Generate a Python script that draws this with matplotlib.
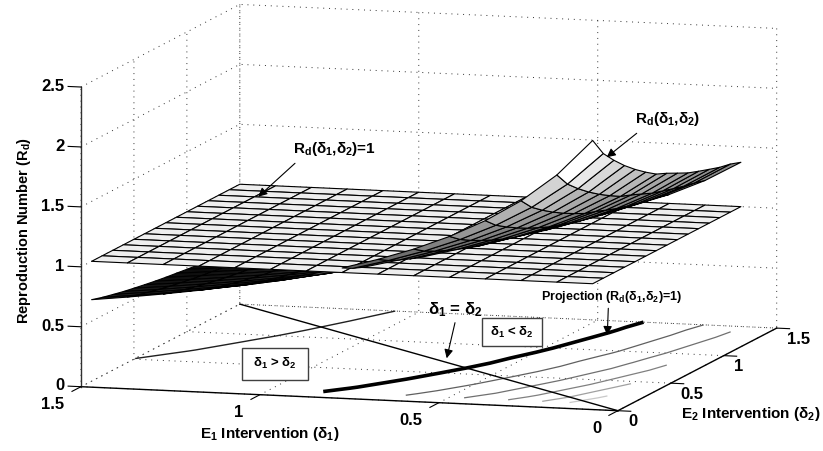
import numpy as np
import matplotlib
matplotlib.use("Agg")
import matplotlib.pyplot as plt
from matplotlib.patches import Rectangle
from mpl_toolkits.mplot3d import proj3d
from mpl_toolkits.mplot3d.art3d import Poly3DCollection

# grid of the two interventions
delta1 = [0.1, 0.2, 0.3, 0.4, 0.5, 0.6, 0.7, 0.8, 0.9, 1.0, 1.1, 1.2, 1.3, 1.4, 1.5]
delta2 = [0.1, 0.2, 0.3, 0.4, 0.5, 0.6, 0.7, 0.8, 0.9, 1.0, 1.1, 1.2, 1.3, 1.4, 1.5]

# Rd, one row per delta2, one column per delta1
rd_values = [
    [2.195, 1.894, 1.665, 1.486, 1.341, 1.222, 1.123, 1.038, 0.966, 0.902, 0.847, 0.798, 0.754, 0.715, 0.680],
    [2.040, 1.772, 1.565, 1.402, 1.270, 1.160, 1.068, 0.989, 0.921, 0.862, 0.810, 0.764, 0.723, 0.686, 0.653],
    [1.938, 1.688, 1.495, 1.342, 1.217, 1.114, 1.026, 0.952, 0.887, 0.831, 0.781, 0.737, 0.698, 0.663, 0.631],
    [1.848, 1.614, 1.433, 1.288, 1.170, 1.072, 0.989, 0.918, 0.856, 0.802, 0.755, 0.713, 0.675, 0.641, 0.610],
    [1.770, 1.549, 1.378, 1.240, 1.128, 1.034, 0.955, 0.887, 0.828, 0.776, 0.730, 0.690, 0.654, 0.621, 0.592],
    [1.701, 1.492, 1.329, 1.198, 1.090, 1.001, 0.924, 0.859, 0.802, 0.753, 0.709, 0.670, 0.635, 0.603, 0.575],
    [1.639, 1.440, 1.284, 1.159, 1.056, 0.969, 0.896, 0.833, 0.779, 0.731, 0.688, 0.650, 0.617, 0.586, 0.559],
    [1.600, 1.406, 1.254, 1.131, 1.031, 0.947, 0.875, 0.814, 0.760, 0.713, 0.672, 0.635, 0.602, 0.572, 0.545],
    [1.555, 1.368, 1.220, 1.102, 1.004, 0.923, 0.853, 0.793, 0.742, 0.696, 0.656, 0.620, 0.588, 0.559, 0.533],
    [1.511, 1.329, 1.187, 1.072, 0.978, 0.898, 0.831, 0.773, 0.723, 0.679, 0.639, 0.605, 0.573, 0.545, 0.520],
    [1.479, 1.302, 1.162, 1.050, 0.957, 0.880, 0.814, 0.757, 0.707, 0.664, 0.626, 0.592, 0.561, 0.533, 0.508],
    [1.449, 1.275, 1.139, 1.028, 0.938, 0.862, 0.797, 0.741, 0.693, 0.651, 0.613, 0.580, 0.550, 0.523, 0.498],
    [1.420, 1.250, 1.116, 1.008, 0.919, 0.844, 0.781, 0.726, 0.679, 0.637, 0.601, 0.568, 0.538, 0.512, 0.488],
    [1.401, 1.231, 1.099, 0.992, 0.904, 0.830, 0.768, 0.714, 0.667, 0.626, 0.590, 0.558, 0.529, 0.503, 0.479],
    [1.370, 1.205, 1.075, 0.971, 0.885, 0.813, 0.752, 0.699, 0.654, 0.613, 0.578, 0.546, 0.518, 0.493, 0.469],
]
plane_level = 1.0

contour_levels = [0.59, 1.0, 1.2, 1.4, 1.6, 1.8, 2.0]
contour_colors = ["#202020", "black", "#606060", "#707070", "#808080", "#a0a0a0", "#c8c8c8"]
contour_widths = [1.0, 2.6, 0.9, 0.9, 0.9, 0.9, 0.9]

diag_ends = [0.0, 1.5]
d1_ticks = [0, 0.5, 1, 1.5]
d2_ticks = [0, 0.5, 1, 1.5]
z_ticks = [0, 0.5, 1, 1.5, 2, 2.5]
d1_ticklabels = ["0", "0.5", "1", "1.5"]
d2_ticklabels = ["0", "0.5", "1", "1.5"]
z_ticklabels = ["0", "0.5", "1", "1.5", "2", "2.5"]

plt.rcParams["font.family"] = ["Liberation Sans", "DejaVu Sans"]
plt.rcParams["font.weight"] = "bold"
plt.rcParams["mathtext.fontset"] = "custom"
plt.rcParams["mathtext.rm"] = "Liberation Sans"
plt.rcParams["mathtext.default"] = "regular"
plt.rcParams["grid.color"] = "#303030"
plt.rcParams["grid.linewidth"] = 0.7
plt.rcParams["grid.linestyle"] = (0, (1, 5))

W, H = 823, 451
fig = plt.figure(figsize=(W / 100, H / 100), dpi=100)
ax = fig.add_axes([0, 0, 1, 1], projection="3d", proj_type="ortho", computed_zorder=False)
# x is delta2, y is delta1, as in the original view
ax.set_xlim(0, 1.5)
ax.set_ylim(0, 1.5)
ax.set_zlim(0, 2.5)
ax.set_box_aspect((565, 560, 303.5))
ax.view_init(elev=8.77, azim=196.34)

ax.set_xticks(d2_ticks)
ax.set_yticks(d1_ticks)
ax.set_zticks(z_ticks)
ax.set_xticklabels([])
ax.set_yticklabels([])
ax.set_zticklabels([])
ax.tick_params(axis="both", color=(0, 0, 0, 0))
ax.grid(True)
for axis in (ax.xaxis, ax.yaxis, ax.zaxis):
    axis.set_pane_color((1, 1, 1, 0))
    axis.pane.set_edgecolor((1, 1, 1, 0))
    axis.line.set_color((0, 0, 0, 0))


def fit_axes():
    # place the cube so its floor corners land where they are in the reference
    ax.apply_aspect()
    box = ax.get_position().frozen()
    corners = [(0, 1.5, 0), (1.5, 0, 0)]
    pts = []
    for c in corners:
        xp, yp, _ = proj3d.proj_transform(*c, ax.get_proj())
        pts.append(ax.transData.transform((xp, yp)))
    s = (776.7 - 81) / (pts[1][0] - pts[0][0])
    x0, y0 = box.x0 * W, box.y0 * H
    size = box.width * W * s
    left = 81 - (pts[0][0] - x0) * s
    bottom = (H - 386.7) - (pts[0][1] - y0) * s
    ax.set_position([left / W, bottom / H, size / W, size / H])


fit_axes()

d1 = np.array(delta1)
d2 = np.array(delta2)
rd = np.array(rd_values).T  # rows delta1, columns delta2
Y, X = np.meshgrid(d1, d2, indexing="ij")

low, high = rd.min(), rd.max()
polys_low, polys_high, cols_low, cols_high = [], [], [], []
polys_plane = []
for i in range(len(d1) - 1):
    for j in range(len(d2) - 1):
        idx = [(i, j), (i + 1, j), (i + 1, j + 1), (i, j + 1)]
        verts = [(X[a], Y[a], rd[a]) for a in idx]
        grey = plt.cm.gray((rd[i, j] - low) / (high - low))
        if np.mean([v[2] for v in verts]) > plane_level:
            polys_high.append(verts)
            cols_high.append(grey)
        else:
            polys_low.append(verts)
            cols_low.append(grey)
        polys_plane.append([(X[a], Y[a], plane_level) for a in idx])

ax.add_collection3d(Poly3DCollection(polys_low, facecolors=cols_low, edgecolors="black",
                                     linewidths=0.8, zorder=5), autolim=False)
ax.add_collection3d(Poly3DCollection(polys_plane, facecolors="#eeeeee", edgecolors="black",
                                     linewidths=0.8, zorder=6), autolim=False)
ax.add_collection3d(Poly3DCollection(polys_high, facecolors=cols_high, edgecolors="black",
                                     linewidths=0.8, zorder=7), autolim=False)

# projection on the floor
ax.contour(X, Y, rd, levels=contour_levels, zdir="z", offset=0, colors=contour_colors,
           linewidths=contour_widths, zorder=3)
ax.plot(diag_ends, diag_ends, [0, 0], color="black", lw=1.0, zorder=3)

# axis lines and tick marks
ax.plot([0, 0], [0, 1.5], [0, 0], color="black", lw=1.0, zorder=2)
ax.plot([0, 1.5], [0, 0], [0, 0], color="black", lw=1.0, zorder=2)
ax.plot([0, 0], [1.5, 1.5], [0, 2.5], color="#303030", lw=1.0, zorder=2)
for v, lab in zip(z_ticks, z_ticklabels):
    ax.plot([0, 0], [1.5, 1.536], [v, v], color="black", lw=0.8, zorder=2)
    ax.text(0, 1.547, v, lab, ha="right", va="center", fontsize=12)
for v, lab in zip(d1_ticks, d1_ticklabels):
    ax.plot([0, -0.085], [v, v], [0, 0], color="black", lw=0.8, zorder=2)
    ax.text(-0.155, v, -0.08, lab, ha="right", va="center", fontsize=12)
for v, lab in zip(d2_ticks, d2_ticklabels):
    ax.plot([v, v], [0, -0.036], [0, 0], color="black", lw=0.8, zorder=2)
    ax.text(v, -0.028, -0.09, lab, ha="left", va="center", fontsize=12)


def fx(x, y):
    return x / W, 1 - y / H


def label(x, y, s, size=10.5, **kw):
    fig.text(*fx(x, y), s, fontsize=size, ha=kw.pop("ha", "center"), va=kw.pop("va", "baseline"), **kw)


def arrow(x0, y0, x1, y1):
    ax.annotate("", xy=fx(x1, y1), xytext=fx(x0, y0), xycoords="figure fraction",
                textcoords="figure fraction", zorder=20,
                arrowprops=dict(arrowstyle="-|>", color="black", lw=0.8, mutation_scale=13,
                                shrinkA=0, shrinkB=0))


def boxed(x0, y0, x1, y1, s):
    fig.add_artist(Rectangle(fx(x0, y1), (x1 - x0) / W, (y1 - y0) / H, transform=fig.transFigure,
                             facecolor="white", edgecolor="#404040", lw=1.0))
    fig.text(*fx((x0 + x1) / 2, (y0 + y1) / 2), s, fontsize=9.5, ha="center", va="center")


D1 = r"$\mathrm{\delta}_{1}$"
D2 = r"$\mathrm{\delta}_{2}$"
RD = r"R$_{d}$"

label(270, 438, "E$_{1}$ Intervention (" + D1 + ")", size=11)
label(751, 418, "E$_{2}$ Intervention (" + D2 + ")", size=11)
label(24, 231, "Reproduction Number (" + RD + ")", size=10.5, rotation=90, ha="center", va="center")

label(334, 153, RD + "(" + D1 + "," + D2 + ")=1", size=11)
label(668, 123, RD + "(" + D1 + "," + D2 + ")", size=11)
label(612, 300, "Projection (" + RD + "(" + D1 + "," + D2 + ")=1)", size=9)
label(455, 314, D1 + " = " + D2, size=12)

arrow(295, 163.3, 258.3, 196.7)
arrow(636.7, 133.3, 606.7, 157.3)
arrow(455, 322.7, 446.7, 358.3)
arrow(608.3, 308.3, 607.3, 335)

boxed(241.7, 347.7, 308.3, 380, D1 + " > " + D2)
boxed(482.3, 318.3, 542.3, 346, D1 + " < " + D2)

fig.savefig("out.png", dpi=100)
